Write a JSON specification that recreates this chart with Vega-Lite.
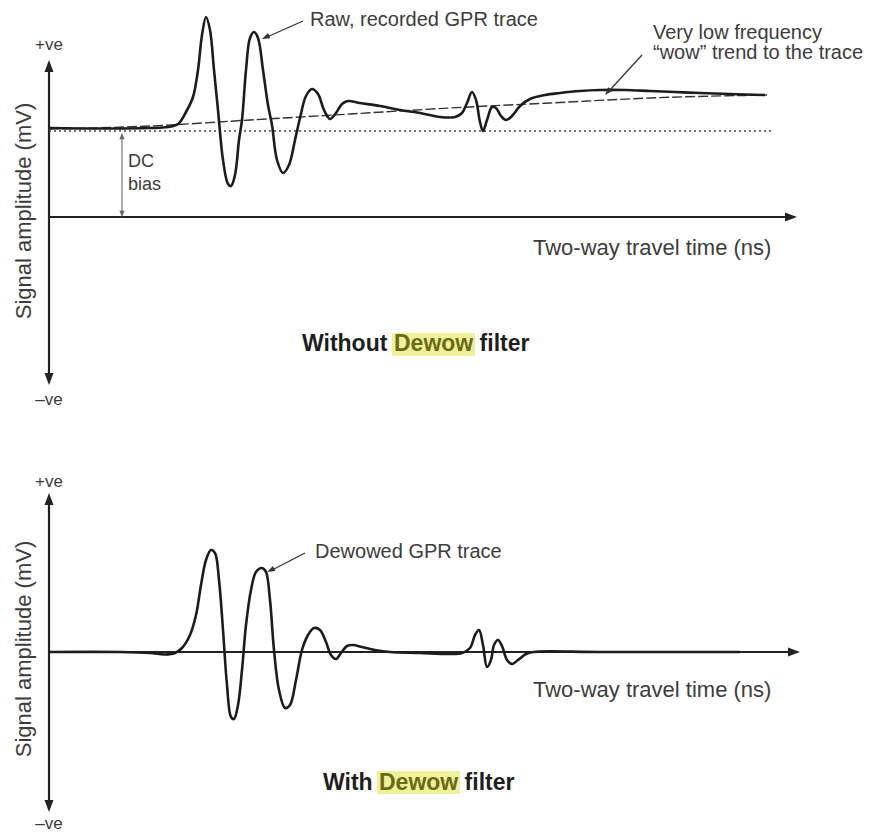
{
  "$schema": "https://vega.github.io/schema/vega-lite/v6.json",
  "padding": 0,
  "spacing": 0,
  "background": "white",
  "config": {"view": {"stroke": null}, "font": "Liberation Sans"},
  "vconcat": [
    {
      "width": 873,
      "height": 417,
      "encoding": {
        "x": {"field": "t", "type": "quantitative", "scale": {"domain": [-4.9, 82.4], "nice": false, "zero": false}, "axis": null},
        "y": {"field": "a", "type": "quantitative", "scale": {"domain": [-20, 21.7], "nice": false, "zero": false}, "axis": null}
      },
      "layer": [
        {
          "data": {"values": [{"t": 0, "a": 0, "t2": 74, "a2": 0}, {"t": 0, "a": -16.2, "t2": 0, "a2": 15.1}]},
          "mark": {"type": "rule", "color": "#222222", "strokeWidth": 2.2},
          "encoding": {"x2": {"field": "t2"}, "y2": {"field": "a2"}}
        },
        {
          "data": {"values": [{"t": 74.2, "a": 0}]},
          "mark": {"type": "point", "shape": "M0,-1L0.75,1L-0.75,1Z", "filled": true, "size": 144, "angle": 90, "color": "#222222", "opacity": 1},
          "encoding": {}
        },
        {
          "data": {"values": [{"t": 0, "a": 15.1}]},
          "mark": {"type": "point", "shape": "M0,-1L0.75,1L-0.75,1Z", "filled": true, "size": 144, "angle": 0, "color": "#222222", "opacity": 1},
          "encoding": {}
        },
        {
          "data": {"values": [{"t": 0, "a": -16.2}]},
          "mark": {"type": "point", "shape": "M0,-1L0.75,1L-0.75,1Z", "filled": true, "size": 144, "angle": 180, "color": "#222222", "opacity": 1},
          "encoding": {}
        },
        {
          "data": {"values": [{"t": 0, "a": 8.6, "t2": 72.4, "a2": 8.6}]},
          "mark": {"type": "rule", "color": "#444444", "strokeWidth": 1.4, "strokeDash": [2, 3]},
          "encoding": {"x2": {"field": "t2"}, "y2": {"field": "a2"}}
        },
        {
          "data": {"values": [{"t": 7.3, "a": 0.3, "t2": 7.3, "a2": 8.1}]},
          "mark": {"type": "rule", "color": "#777777", "strokeWidth": 1.2},
          "encoding": {"x2": {"field": "t2"}, "y2": {"field": "a2"}}
        },
        {
          "data": {"values": [{"t": 7.3, "a": 8.1}]},
          "mark": {"type": "point", "shape": "M0,-1L0.8,1L-0.8,1Z", "filled": true, "size": 40, "angle": 0, "color": "#666666", "opacity": 1},
          "encoding": {}
        },
        {
          "data": {"values": [{"t": 7.3, "a": 0.3}]},
          "mark": {"type": "point", "shape": "M0,-1L0.8,1L-0.8,1Z", "filled": true, "size": 40, "angle": 180, "color": "#666666", "opacity": 1},
          "encoding": {}
        },
        {
          "data": {"values": [
            {"t": 0, "a": 8.8}, {"t": 10.1, "a": 9.1}, {"t": 20.1, "a": 9.7}, {"t": 30.1, "a": 10.3},
            {"t": 40.1, "a": 10.9}, {"t": 50.1, "a": 11.4}, {"t": 60.1, "a": 11.9}, {"t": 71.8, "a": 12.2}
          ]},
          "mark": {"type": "line", "color": "#333333", "strokeWidth": 1.4, "strokeDash": [10, 3], "interpolate": "monotone"},
          "encoding": {}
        },
        {
          "data": {"values": [
            {"t": 0, "a": 8.9}, {"t": 5.1, "a": 8.85}, {"t": 10.1, "a": 8.9}, {"t": 11.9, "a": 9.0},
            {"t": 12.9, "a": 9.3}, {"t": 13.7, "a": 10.5}, {"t": 14.4, "a": 12.0}, {"t": 14.9, "a": 14.7},
            {"t": 15.3, "a": 18.2}, {"t": 15.7, "a": 20.0}, {"t": 16.1, "a": 18.7}, {"t": 16.5, "a": 14.7},
            {"t": 16.9, "a": 10.7}, {"t": 17.4, "a": 5.7}, {"t": 17.9, "a": 3.3}, {"t": 18.2, "a": 3.1},
            {"t": 18.6, "a": 4.2}, {"t": 19.0, "a": 7.7}, {"t": 19.3, "a": 9.7}, {"t": 19.7, "a": 14.7},
            {"t": 20.1, "a": 17.9}, {"t": 20.5, "a": 18.5}, {"t": 20.9, "a": 17.9}, {"t": 21.4, "a": 14.7},
            {"t": 21.9, "a": 11.2}, {"t": 22.3, "a": 9.2}, {"t": 22.8, "a": 5.7}, {"t": 23.4, "a": 4.4},
            {"t": 24.0, "a": 5.2}, {"t": 24.6, "a": 7.7}, {"t": 25.1, "a": 9.9}, {"t": 25.7, "a": 12.1},
            {"t": 26.3, "a": 12.8}, {"t": 26.9, "a": 12.3}, {"t": 27.5, "a": 10.7}, {"t": 28.1, "a": 9.8},
            {"t": 28.7, "a": 10.4}, {"t": 29.3, "a": 11.3}, {"t": 29.9, "a": 11.6}, {"t": 31.1, "a": 11.4},
            {"t": 33.1, "a": 11.1}, {"t": 35.1, "a": 10.7}, {"t": 37.1, "a": 10.4}, {"t": 39.1, "a": 10.0},
            {"t": 40.6, "a": 10.0}, {"t": 41.3, "a": 10.4}, {"t": 41.8, "a": 11.4}, {"t": 42.3, "a": 12.5},
            {"t": 42.7, "a": 11.7}, {"t": 43.1, "a": 9.5}, {"t": 43.4, "a": 8.6}, {"t": 43.8, "a": 9.7},
            {"t": 44.3, "a": 11.0}, {"t": 44.7, "a": 10.9}, {"t": 45.2, "a": 10.1}, {"t": 45.7, "a": 9.7},
            {"t": 46.3, "a": 10.1}, {"t": 47.1, "a": 11.1}, {"t": 48.1, "a": 11.8}, {"t": 49.6, "a": 12.2},
            {"t": 51.1, "a": 12.4}, {"t": 53.1, "a": 12.6}, {"t": 55.1, "a": 12.7}, {"t": 57.6, "a": 12.7},
            {"t": 60.1, "a": 12.6}, {"t": 62.6, "a": 12.5}, {"t": 65.1, "a": 12.4}, {"t": 68.1, "a": 12.3},
            {"t": 71.6, "a": 12.2}
          ]},
          "mark": {"type": "line", "color": "#1c1c1c", "strokeWidth": 2.6, "interpolate": "catmull-rom"},
          "encoding": {}
        },
        {
          "data": {"values": [{"t": 25.4, "a": 19.6, "t2": 21.8, "a2": 18.0}, {"t": 59.3, "a": 16.2, "t2": 56.0, "a2": 12.6}]},
          "mark": {"type": "rule", "color": "#333333", "strokeWidth": 1.3},
          "encoding": {"x2": {"field": "t2"}, "y2": {"field": "a2"}}
        },
        {
          "data": {"values": [{"t": 21.66, "a": 17.97}]},
          "mark": {"type": "point", "shape": "M0,-1L0.7,1L-0.7,1Z", "filled": true, "size": 64, "angle": 245, "color": "#333333", "opacity": 1},
          "encoding": {}
        },
        {
          "data": {"values": [{"t": 55.87, "a": 12.49}]},
          "mark": {"type": "point", "shape": "M0,-1L0.7,1L-0.7,1Z", "filled": true, "size": 64, "angle": 222.7, "color": "#333333", "opacity": 1},
          "encoding": {}
        },
        {
          "data": {"values": [{"t": 0, "a": 17.2, "label": "+ve"}, {"t": 0, "a": -18.3, "label": "–ve"}]},
          "mark": {"type": "text", "fontSize": 17, "color": "#3c3c3c", "align": "center", "baseline": "middle"},
          "encoding": {"text": {"field": "label"}}
        },
        {
          "data": {"values": [{"t": -2.5, "a": 0.6, "label": "Signal amplitude (mV)"}]},
          "mark": {"type": "text", "fontSize": 22, "color": "#3c3c3c", "align": "center", "baseline": "middle", "angle": 270},
          "encoding": {"text": {"field": "label"}}
        },
        {
          "data": {"values": [{"t": 7.9, "a": 5.5, "label": "DC"}, {"t": 7.9, "a": 3.2, "label": "bias"}]},
          "mark": {"type": "text", "fontSize": 18, "color": "#3c3c3c", "align": "left", "baseline": "middle"},
          "encoding": {"text": {"field": "label"}}
        },
        {
          "data": {"values": [{"t": 48.4, "a": -3.1, "label": "Two-way travel time (ns)"}]},
          "mark": {"type": "text", "fontSize": 22, "color": "#3c3c3c", "align": "left", "baseline": "middle"},
          "encoding": {"text": {"field": "label"}}
        },
        {
          "data": {"values": [
            {"t": 26.1, "a": 19.7, "label": "Raw, recorded GPR trace"},
            {"t": 60.4, "a": 18.4, "label": "Very low frequency"},
            {"t": 60.4, "a": 16.4, "label": "“wow” trend to the trace"}
          ]},
          "mark": {"type": "text", "fontSize": 20, "color": "#3c3c3c", "align": "left", "baseline": "middle"},
          "encoding": {"text": {"field": "label"}}
        },
        {
          "data": {"values": [{"t": 34.3, "a": -11.6, "t2": 42.6, "a2": -13.9}]},
          "mark": {"type": "rect", "color": "#eef19a"},
          "encoding": {"x2": {"field": "t2"}, "y2": {"field": "a2"}}
        },
        {
          "data": {"values": [{"t": 25.3, "a": -12.7, "label": "Without"}, {"t": 43.06, "a": -12.7, "label": "filter"}]},
          "mark": {"type": "text", "fontSize": 23, "fontWeight": "bold", "color": "#1e1e1e", "align": "left", "baseline": "middle"},
          "encoding": {"text": {"field": "label"}}
        },
        {
          "data": {"values": [{"t": 34.5, "a": -12.7, "label": "Dewow"}]},
          "mark": {"type": "text", "fontSize": 23, "fontWeight": "bold", "color": "#6a6a14", "align": "left", "baseline": "middle"},
          "encoding": {"text": {"field": "label"}}
        }
      ]
    },
    {
      "width": 873,
      "height": 417,
      "encoding": {
        "x": {"field": "t", "type": "quantitative", "scale": {"domain": [-4.9, 82.4], "nice": false, "zero": false}, "axis": null},
        "y": {"field": "a", "type": "quantitative", "scale": {"domain": [-18.2, 23.5], "nice": false, "zero": false}, "axis": null}
      },
      "layer": [
        {
          "data": {"values": [{"t": 0, "a": 0, "t2": 74.3, "a2": 0}, {"t": 0, "a": -15.4, "t2": 0, "a2": 15.3}]},
          "mark": {"type": "rule", "color": "#222222", "strokeWidth": 2.2},
          "encoding": {"x2": {"field": "t2"}, "y2": {"field": "a2"}}
        },
        {
          "data": {"values": [{"t": 74.5, "a": 0}]},
          "mark": {"type": "point", "shape": "M0,-1L0.75,1L-0.75,1Z", "filled": true, "size": 144, "angle": 90, "color": "#222222", "opacity": 1},
          "encoding": {}
        },
        {
          "data": {"values": [{"t": 0, "a": 15.3}]},
          "mark": {"type": "point", "shape": "M0,-1L0.75,1L-0.75,1Z", "filled": true, "size": 144, "angle": 0, "color": "#222222", "opacity": 1},
          "encoding": {}
        },
        {
          "data": {"values": [{"t": 0, "a": -15.4}]},
          "mark": {"type": "point", "shape": "M0,-1L0.75,1L-0.75,1Z", "filled": true, "size": 144, "angle": 180, "color": "#222222", "opacity": 1},
          "encoding": {}
        },
        {
          "data": {"values": [
            {"t": 0, "a": 0}, {"t": 7.1, "a": 0}, {"t": 10.1, "a": -0.1}, {"t": 11.6, "a": -0.25},
            {"t": 12.6, "a": -0.1}, {"t": 13.3, "a": 0.4}, {"t": 14.1, "a": 1.7}, {"t": 14.7, "a": 3.7},
            {"t": 15.2, "a": 6.7}, {"t": 15.7, "a": 9.2}, {"t": 16.2, "a": 10.2}, {"t": 16.6, "a": 9.9},
            {"t": 17.0, "a": 7.2}, {"t": 17.4, "a": 2.2}, {"t": 17.8, "a": -3.3}, {"t": 18.2, "a": -6.5},
            {"t": 18.5, "a": -6.7}, {"t": 18.9, "a": -5.3}, {"t": 19.3, "a": -1.8}, {"t": 19.7, "a": 2.7},
            {"t": 20.2, "a": 6.2}, {"t": 20.7, "a": 8.0}, {"t": 21.3, "a": 8.4}, {"t": 21.7, "a": 8.0},
            {"t": 22.1, "a": 5.2}, {"t": 22.5, "a": 0.2}, {"t": 23.0, "a": -3.8}, {"t": 23.6, "a": -5.6},
            {"t": 24.1, "a": -5.3}, {"t": 24.7, "a": -2.8}, {"t": 25.3, "a": 0.2}, {"t": 25.9, "a": 1.7},
            {"t": 26.5, "a": 2.4}, {"t": 27.1, "a": 2.2}, {"t": 27.7, "a": 1.0}, {"t": 28.2, "a": -0.3},
            {"t": 28.7, "a": -0.7}, {"t": 29.2, "a": -0.1}, {"t": 29.8, "a": 0.6}, {"t": 30.4, "a": 0.7},
            {"t": 31.3, "a": 0.5}, {"t": 32.6, "a": 0.2}, {"t": 34.1, "a": 0}, {"t": 37.1, "a": -0.1},
            {"t": 40.1, "a": -0.2}, {"t": 41.3, "a": -0.1}, {"t": 42.1, "a": 0.4}, {"t": 42.6, "a": 1.7},
            {"t": 43.0, "a": 2.2}, {"t": 43.4, "a": 0.7}, {"t": 43.8, "a": -1.5}, {"t": 44.2, "a": -0.8},
            {"t": 44.5, "a": 0.7}, {"t": 44.9, "a": 1.2}, {"t": 45.3, "a": 0.6}, {"t": 45.8, "a": -0.8},
            {"t": 46.3, "a": -1.2}, {"t": 46.9, "a": -0.8}, {"t": 47.7, "a": -0.2}, {"t": 48.4, "a": 0},
            {"t": 55.1, "a": 0}, {"t": 69.1, "a": 0}
          ]},
          "mark": {"type": "line", "color": "#1c1c1c", "strokeWidth": 2.6, "interpolate": "catmull-rom"},
          "encoding": {}
        },
        {
          "data": {"values": [{"t": 25.6, "a": 9.9, "t2": 22.3, "a2": 8.2}]},
          "mark": {"type": "rule", "color": "#333333", "strokeWidth": 1.3},
          "encoding": {"x2": {"field": "t2"}, "y2": {"field": "a2"}}
        },
        {
          "data": {"values": [{"t": 22.16, "a": 8.18}]},
          "mark": {"type": "point", "shape": "M0,-1L0.7,1L-0.7,1Z", "filled": true, "size": 64, "angle": 243.4, "color": "#333333", "opacity": 1},
          "encoding": {}
        },
        {
          "data": {"values": [{"t": 0, "a": 17.0, "label": "+ve"}, {"t": 0, "a": -17.15, "label": "–ve"}]},
          "mark": {"type": "text", "fontSize": 17, "color": "#3c3c3c", "align": "center", "baseline": "middle"},
          "encoding": {"text": {"field": "label"}}
        },
        {
          "data": {"values": [{"t": -2.5, "a": 0.3, "label": "Signal amplitude (mV)"}]},
          "mark": {"type": "text", "fontSize": 22, "color": "#3c3c3c", "align": "center", "baseline": "middle", "angle": 270},
          "encoding": {"text": {"field": "label"}}
        },
        {
          "data": {"values": [{"t": 48.4, "a": -3.8, "label": "Two-way travel time (ns)"}]},
          "mark": {"type": "text", "fontSize": 22, "color": "#3c3c3c", "align": "left", "baseline": "middle"},
          "encoding": {"text": {"field": "label"}}
        },
        {
          "data": {"values": [{"t": 26.6, "a": 10.0, "label": "Dewowed GPR trace"}]},
          "mark": {"type": "text", "fontSize": 20, "color": "#3c3c3c", "align": "left", "baseline": "middle"},
          "encoding": {"text": {"field": "label"}}
        },
        {
          "data": {"values": [{"t": 32.8, "a": -11.9, "t2": 41.1, "a2": -14.2}]},
          "mark": {"type": "rect", "color": "#eef19a"},
          "encoding": {"x2": {"field": "t2"}, "y2": {"field": "a2"}}
        },
        {
          "data": {"values": [{"t": 27.4, "a": -13.1, "label": "With"}, {"t": 41.56, "a": -13.1, "label": "filter"}]},
          "mark": {"type": "text", "fontSize": 23, "fontWeight": "bold", "color": "#1e1e1e", "align": "left", "baseline": "middle"},
          "encoding": {"text": {"field": "label"}}
        },
        {
          "data": {"values": [{"t": 33.0, "a": -13.1, "label": "Dewow"}]},
          "mark": {"type": "text", "fontSize": 23, "fontWeight": "bold", "color": "#6a6a14", "align": "left", "baseline": "middle"},
          "encoding": {"text": {"field": "label"}}
        }
      ]
    }
  ]
}
